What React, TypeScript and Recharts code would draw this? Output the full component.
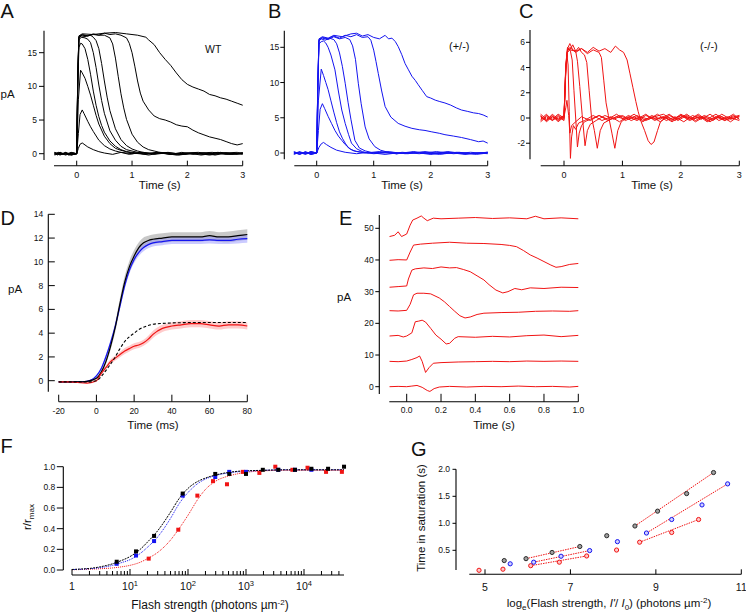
import React from "react";
import { ComposedChart, Line, Area, Scatter, XAxis, YAxis, ReferenceLine } from "recharts";

const W = 746;
const H = 612;
const FONT = "'Liberation Sans', Arial, Helvetica, sans-serif";
const BLUE = "#1414f0";
const RED = "#f01414";

type Pt = [number, number];

// ---- A: WT flash responses (time s, pA)
const wt1: Pt[] = [[-0.4,0.1],[-0.35,-0.2],[-0.3,0.2],[-0.25,-0.1],[-0.2,0.1],[-0.15,-0.2],[-0.1,0.1],[-0.05,-0.1],[0,0],[0.03,0.8],[0.06,1.4],[0.1,1.6],[0.15,1.3],[0.2,1.0],[0.3,0.6],[0.4,0.3],[0.5,0.1],[0.65,-0.1],[0.8,0.2],[0.95,-0.1],[1.1,0.1],[1.3,-0.2],[1.5,0.1],[1.7,-0.1],[1.9,0.2],[2.1,-0.1],[2.3,0.1],[2.5,-0.2],[2.7,0.1],[2.9,-0.1],[3.0,0.1]];
const wt2: Pt[] = [[-0.4,-0.1],[-0.33,0.2],[-0.27,-0.1],[-0.2,0.1],[-0.13,-0.2],[-0.07,0.1],[0,0],[0.03,3.0],[0.06,5.8],[0.1,6.5],[0.13,6.0],[0.2,4.8],[0.25,4.0],[0.3,3.3],[0.4,2.0],[0.5,1.2],[0.6,0.7],[0.7,0.4],[0.8,0.2],[1.0,0],[1.2,0.2],[1.4,-0.1],[1.6,0.1],[1.85,-0.2],[2.1,0.1],[2.35,-0.1],[2.6,0.2],[2.8,-0.1],[3.0,0.1]];
const wt3: Pt[] = [[-0.4,0.2],[-0.3,-0.1],[-0.2,0.1],[-0.1,-0.2],[0,0],[0.03,8.0],[0.07,12.4],[0.1,12.0],[0.15,11.2],[0.2,10.0],[0.25,8.7],[0.3,7.2],[0.35,5.7],[0.4,4.4],[0.5,2.6],[0.6,1.5],[0.7,0.8],[0.8,0.5],[0.9,0.3],[1.0,0.1],[1.25,-0.1],[1.5,0.2],[1.75,-0.1],[2.0,0.1],[2.25,-0.2],[2.5,0.1],[2.75,-0.1],[3.0,0.1]];
const wt4: Pt[] = [[-0.4,-0.1],[-0.3,0.1],[-0.2,-0.2],[-0.1,0.1],[0,0],[0.02,10],[0.04,15.8],[0.07,16.4],[0.1,16.3],[0.15,15.6],[0.2,14.0],[0.25,11.8],[0.3,9.3],[0.35,7.2],[0.4,5.5],[0.45,4.2],[0.5,3.2],[0.6,1.9],[0.7,1.1],[0.8,0.6],[0.9,0.3],[1.0,0.2],[1.2,0],[1.45,0.2],[1.7,-0.1],[1.95,0.1],[2.2,0.2],[2.45,-0.1],[2.7,0.1],[3.0,-0.1]];
const wt5: Pt[] = [[-0.4,0.1],[-0.3,-0.1],[-0.2,0.2],[-0.1,-0.1],[0,0],[0.02,11],[0.04,16.9],[0.08,17.3],[0.15,17.2],[0.2,17.0],[0.25,16.5],[0.3,15.0],[0.35,12.8],[0.4,10.2],[0.45,7.9],[0.5,6.0],[0.6,3.4],[0.7,2.0],[0.8,1.1],[0.9,0.6],[1.0,0.4],[1.1,0.2],[1.3,0],[1.55,0.1],[1.8,-0.2],[2.05,0.1],[2.3,-0.1],[2.55,0.2],[2.8,0],[3.0,0.1]];
const wt6: Pt[] = [[-0.4,-0.2],[-0.3,0.1],[-0.2,-0.1],[-0.1,0.2],[0,0],[0.02,11.5],[0.04,17.2],[0.08,17.5],[0.15,17.4],[0.25,17.6],[0.3,17.3],[0.35,16.8],[0.4,15.6],[0.45,13.4],[0.5,10.8],[0.55,8.4],[0.6,6.4],[0.7,3.7],[0.8,2.1],[0.9,1.2],[1.0,0.7],[1.1,0.4],[1.2,0.2],[1.4,0],[1.65,0.2],[1.9,-0.1],[2.15,0.1],[2.4,-0.2],[2.65,0.1],[2.9,0.2],[3.0,0]];
const wt7: Pt[] = [[-0.4,0.1],[-0.3,-0.2],[-0.2,0.1],[-0.1,-0.1],[0,0],[0.02,12],[0.04,17.3],[0.1,17.6],[0.2,17.5],[0.3,17.7],[0.4,17.6],[0.5,17.6],[0.6,17.2],[0.65,16.3],[0.7,14.2],[0.75,11.5],[0.8,8.9],[0.85,6.8],[0.9,5.1],[1.0,2.9],[1.1,1.7],[1.2,1.0],[1.3,0.6],[1.4,0.4],[1.5,0.2],[1.7,0.1],[1.95,-0.1],[2.2,0.1],[2.45,0.2],[2.7,-0.1],[3.0,0.1]];
const wt8: Pt[] = [[-0.4,0],[-0.3,0.2],[-0.2,-0.1],[-0.1,0.1],[0,0],[0.02,12],[0.04,17.4],[0.1,17.7],[0.2,17.5],[0.3,17.8],[0.4,17.6],[0.5,17.9],[0.6,17.7],[0.7,17.8],[0.8,17.6],[0.9,17.2],[0.95,16.4],[1.0,15.0],[1.05,13.0],[1.1,10.8],[1.15,9.0],[1.2,7.8],[1.3,6.5],[1.4,5.6],[1.5,5.2],[1.6,5.0],[1.7,4.7],[1.8,4.3],[1.9,4.1],[2.0,4.0],[2.1,3.5],[2.2,3.1],[2.3,2.8],[2.4,2.5],[2.5,2.3],[2.6,2.1],[2.7,1.8],[2.8,1.5],[2.9,1.3],[3.0,1.5]];
const wt9: Pt[] = [[-0.4,0.1],[-0.3,-0.1],[-0.2,0.1],[-0.1,-0.2],[0,0],[0.02,12],[0.04,17.5],[0.1,17.8],[0.3,17.7],[0.5,17.9],[0.7,18.0],[0.9,17.8],[1.1,17.6],[1.25,17.3],[1.3,16.9],[1.4,16.2],[1.5,15.0],[1.6,14.0],[1.7,13.1],[1.8,12.0],[1.9,11.0],[2.0,10.3],[2.1,9.9],[2.2,9.6],[2.3,9.3],[2.4,8.8],[2.5,8.6],[2.6,8.3],[2.7,8.1],[2.8,7.8],[2.9,7.5],[3.0,7.2]];
const wtTraces = [wt1, wt2, wt3, wt4, wt5, wt6, wt7, wt8, wt9];

// ---- B: (+/-)
const het1: Pt[] = [[-0.4,0.1],[-0.3,-0.2],[-0.2,0.2],[-0.1,-0.1],[0,0],[0.04,0.8],[0.08,1.3],[0.12,1.5],[0.17,1.2],[0.25,0.8],[0.35,0.4],[0.5,0.1],[0.7,-0.1],[0.9,0.1],[1.2,-0.2],[1.5,0.1],[1.8,-0.1],[2.1,0.2],[2.4,-0.1],[2.7,0.1],[3.0,-0.1]];
const het2: Pt[] = [[-0.4,-0.2],[-0.3,0.1],[-0.2,-0.1],[-0.1,0.2],[0,0],[0.03,3.2],[0.06,6.2],[0.1,7.0],[0.14,6.3],[0.2,5.2],[0.26,4.2],[0.32,3.2],[0.38,2.4],[0.44,1.8],[0.5,1.2],[0.6,0.5],[0.7,0.2],[0.85,0],[1.1,0.2],[1.4,-0.1],[1.7,0.1],[2.0,-0.2],[2.3,0.1],[2.6,-0.1],[3.0,0.1]];
const het3: Pt[] = [[-0.4,0.1],[-0.3,-0.1],[-0.2,0.1],[-0.1,-0.2],[0,0],[0.03,7.5],[0.08,11.9],[0.12,11.0],[0.16,10.0],[0.2,9.0],[0.25,7.4],[0.3,5.8],[0.35,4.3],[0.4,3.0],[0.45,2.1],[0.5,1.4],[0.56,0.7],[0.65,0.3],[0.8,0.1],[1.0,-0.1],[1.3,0.1],[1.6,-0.1],[1.9,0.2],[2.2,-0.1],[2.5,0.1],[2.8,-0.2],[3.0,0]];
const het4: Pt[] = [[-0.4,-0.1],[-0.3,0.2],[-0.2,-0.1],[-0.1,0.1],[0,0],[0.02,9],[0.04,15.5],[0.08,15.8],[0.12,15.9],[0.16,15.6],[0.2,15.0],[0.25,13.9],[0.32,11.8],[0.38,8.8],[0.44,6.1],[0.5,4.2],[0.56,2.6],[0.61,1.4],[0.7,0.6],[0.8,0.2],[0.9,0],[1.1,0.1],[1.4,-0.1],[1.7,0.2],[2.0,-0.1],[2.3,0.1],[2.6,-0.2],[3.0,0.1]];
const het5: Pt[] = [[-0.4,0.2],[-0.3,-0.1],[-0.2,0.1],[-0.1,-0.2],[0,0],[0.02,9.5],[0.04,15.9],[0.08,16.2],[0.15,16.0],[0.22,16.3],[0.3,16.1],[0.35,15.5],[0.4,14.2],[0.45,12.3],[0.5,9.9],[0.55,7.2],[0.6,4.8],[0.67,1.8],[0.75,0.7],[0.85,0.3],[1.0,0],[1.25,0.2],[1.55,-0.1],[1.85,0.1],[2.15,-0.2],[2.45,0.1],[2.75,-0.1],[3.0,0.1]];
const het6: Pt[] = [[-0.4,-0.1],[-0.3,0.1],[-0.2,-0.2],[-0.1,0.1],[0,0],[0.02,10],[0.04,16.0],[0.1,16.3],[0.2,16.1],[0.3,16.5],[0.4,16.2],[0.5,16.4],[0.58,16.1],[0.63,15.2],[0.68,13.3],[0.73,9.9],[0.78,7.0],[0.85,3.7],[0.92,2.0],[1.02,0.9],[1.12,0.4],[1.25,0.1],[1.4,-0.1],[1.7,0.1],[2.0,-0.1],[2.3,0.2],[2.6,-0.1],[3.0,0]];
const het7: Pt[] = [[-0.4,0.1],[-0.3,-0.2],[-0.2,0.1],[-0.1,-0.1],[0,0],[0.02,10],[0.04,16.1],[0.1,16.4],[0.2,16.2],[0.3,16.6],[0.4,16.3],[0.5,16.7],[0.6,16.5],[0.7,16.8],[0.8,16.4],[0.9,16.5],[0.95,16.0],[1.0,14.6],[1.04,13.0],[1.08,11.3],[1.14,8.8],[1.2,6.6],[1.3,5.1],[1.43,4.2],[1.55,3.8],[1.67,3.5],[1.8,3.3],[1.9,3.2],[2.02,3.0],[2.15,2.8],[2.25,2.6],[2.4,2.4],[2.54,2.2],[2.7,1.9],[2.84,1.6],[2.92,1.7],[3.0,1.4]];
const het8: Pt[] = [[-0.4,-0.1],[-0.3,0.1],[-0.2,-0.1],[-0.1,0.2],[0,0],[0.02,10],[0.04,16.2],[0.1,16.5],[0.2,16.3],[0.3,16.7],[0.45,16.5],[0.6,16.9],[0.7,17.0],[0.8,16.6],[0.9,16.8],[1.0,16.4],[1.1,16.2],[1.2,16.7],[1.26,16.2],[1.32,16.3],[1.38,15.8],[1.43,15.1],[1.49,14.0],[1.55,12.7],[1.61,11.8],[1.67,10.9],[1.73,10.3],[1.78,9.7],[1.85,8.9],[1.93,8.0],[2.0,7.8],[2.08,7.5],[2.16,7.3],[2.25,7.1],[2.35,6.8],[2.45,6.4],[2.54,6.1],[2.65,5.9],[2.75,5.7],[2.84,5.6],[2.92,5.4],[3.0,5.1]];
const hetTraces = [het1, het2, het3, het4, het5, het6, het7, het8];

// ---- C: (-/-)
const ko1: Pt[] = [[-0.4,0.2],[-0.3,-0.3],[-0.2,0.1],[-0.1,-0.2],[0,0.1],[0.03,0.8],[0.05,1.4],[0.08,0.2],[0.1,-1.2],[0.13,-0.6],[0.2,-0.3],[0.3,0.1],[0.45,-0.2],[0.6,0.2],[0.75,-0.1],[0.9,0.3],[1.05,-0.2],[1.2,0.1],[1.35,-0.3],[1.5,0.2],[1.65,-0.1],[1.8,0.3],[1.95,-0.2],[2.1,0.2],[2.25,-0.3],[2.4,0.1],[2.55,-0.2],[2.7,0.3],[2.85,-0.1],[3.0,0.1]];
const ko2: Pt[] = [[-0.4,-0.2],[-0.3,0.2],[-0.2,-0.1],[-0.1,0.3],[0,0],[0.03,3.5],[0.05,5.0],[0.07,4.2],[0.09,0.5],[0.11,-3.2],[0.13,-1.5],[0.16,-0.6],[0.2,-0.9],[0.25,-0.4],[0.35,-0.2],[0.5,0.2],[0.65,-0.2],[0.8,0.1],[0.95,-0.3],[1.1,0.2],[1.25,-0.1],[1.4,0.3],[1.55,-0.2],[1.7,0.1],[1.85,-0.2],[2.0,0.3],[2.15,-0.1],[2.3,0.2],[2.45,-0.3],[2.6,0.1],[2.75,-0.2],[2.9,0.2],[3.0,-0.1]];
const ko3: Pt[] = [[-0.4,0.1],[-0.3,-0.2],[-0.2,0.3],[-0.1,-0.1],[0,0.2],[0.03,3.8],[0.05,5.2],[0.08,5.5],[0.11,5.3],[0.14,4.6],[0.17,2.2],[0.2,0.0],[0.23,-2.3],[0.26,-1.2],[0.3,-0.6],[0.35,-0.3],[0.45,-0.1],[0.6,0.2],[0.75,-0.2],[0.9,0.1],[1.05,-0.1],[1.2,0.3],[1.35,-0.2],[1.5,0.1],[1.65,-0.3],[1.8,0.2],[1.95,-0.1],[2.1,0.3],[2.25,-0.2],[2.4,0.2],[2.55,-0.1],[2.7,0.1],[2.85,-0.3],[3.0,0.2]];
const ko4: Pt[] = [[-0.4,-0.3],[-0.3,0.1],[-0.2,-0.2],[-0.1,0.2],[0,-0.1],[0.03,4.0],[0.06,5.5],[0.1,5.9],[0.15,5.4],[0.2,5.3],[0.23,4.5],[0.27,2.5],[0.31,0.3],[0.36,-2.2],[0.4,-1.0],[0.45,-0.5],[0.55,-0.2],[0.7,0.2],[0.85,-0.1],[1.0,0.2],[1.15,-0.2],[1.3,0.1],[1.45,-0.1],[1.6,0.3],[1.75,-0.2],[1.9,0.1],[2.05,-0.3],[2.2,0.2],[2.35,-0.1],[2.5,0.3],[2.65,-0.2],[2.8,0.1],[3.0,-0.2]];
const ko5: Pt[] = [[-0.4,0.3],[-0.3,-0.1],[-0.2,0.2],[-0.1,-0.3],[0,0.1],[0.03,4.2],[0.06,5.6],[0.1,5.4],[0.15,5.8],[0.2,5.3],[0.25,5.6],[0.3,5.2],[0.35,5.0],[0.39,4.4],[0.43,2.2],[0.47,0.1],[0.52,-1.0],[0.57,-2.4],[0.62,-1.0],[0.68,-0.4],[0.8,-0.1],[0.95,0.2],[1.1,-0.1],[1.25,0.2],[1.4,-0.2],[1.55,0.1],[1.7,0.3],[1.85,-0.1],[2.0,0.2],[2.15,-0.2],[2.3,0.1],[2.45,-0.1],[2.6,0.3],[2.75,-0.2],[2.9,0.1],[3.0,0.2]];
const ko6: Pt[] = [[-0.4,-0.1],[-0.3,0.3],[-0.2,-0.2],[-0.1,0.1],[0,-0.2],[0.03,4.0],[0.06,5.3],[0.1,5.6],[0.2,5.2],[0.3,5.5],[0.4,5.1],[0.5,5.4],[0.6,5.2],[0.64,4.8],[0.68,3.0],[0.72,1.2],[0.76,0.2],[0.82,-1.2],[0.87,-2.4],[0.92,-1.0],[0.98,-0.3],[1.1,0.1],[1.25,-0.2],[1.4,0.2],[1.55,-0.1],[1.7,0.1],[1.85,-0.3],[2.0,0.2],[2.15,-0.1],[2.3,0.3],[2.45,-0.2],[2.6,0.1],[2.75,-0.1],[2.9,0.3],[3.0,-0.1]];
const ko7: Pt[] = [[-0.4,0.1],[-0.3,-0.2],[-0.2,0.1],[-0.1,-0.1],[0,0.2],[0.03,3.8],[0.06,5.2],[0.1,5.4],[0.2,5.3],[0.3,5.5],[0.4,5.2],[0.5,5.6],[0.6,5.3],[0.7,5.5],[0.8,5.2],[0.88,5.7],[0.95,5.4],[1.02,5.2],[1.08,4.6],[1.13,3.5],[1.18,2.4],[1.23,1.3],[1.27,0.5],[1.32,-0.3],[1.38,-1.0],[1.44,-1.8],[1.49,-2.1],[1.54,-1.9],[1.6,-1.0],[1.65,-0.3],[1.75,0.1],[1.9,-0.2],[2.05,0.2],[2.2,-0.1],[2.35,0.1],[2.5,-0.3],[2.65,0.2],[2.8,-0.1],[3.0,0.1]];
const koTraces = [ko1, ko2, ko3, ko4, ko5, ko6, ko7];

// ---- D: mean rising phase (ms, pA)
const tD = [-20,-15,-10,-5,0,2.5,5,7.5,10,12.5,15,17.5,20,22.5,25,27.5,30,35,40,45,50,55,60,65,70,75,80];
const dBlack = [-0.1,-0.1,-0.1,-0.05,0.2,0.7,1.6,2.9,4.5,6.5,8.3,9.6,10.5,11.2,11.6,11.8,11.9,12.0,12.1,12.1,12.1,12.1,12.2,12.1,12.1,12.2,12.3];
const dBlackSd = [0.05,0.05,0.05,0.05,0.1,0.15,0.2,0.3,0.4,0.45,0.5,0.5,0.5,0.45,0.45,0.4,0.4,0.4,0.4,0.4,0.4,0.4,0.4,0.4,0.45,0.45,0.45];
const dBlue = [-0.1,-0.1,-0.1,-0.05,0.4,1.0,2.0,3.2,4.6,6.3,8.0,9.3,10.2,10.8,11.2,11.45,11.6,11.7,11.8,11.8,11.8,11.8,11.85,11.8,11.8,11.9,11.95];
const dBlueSd = [0.05,0.05,0.05,0.05,0.1,0.15,0.2,0.25,0.3,0.3,0.3,0.3,0.3,0.3,0.3,0.3,0.3,0.3,0.3,0.3,0.3,0.3,0.3,0.3,0.3,0.35,0.35];
const dRed = [-0.1,-0.1,-0.15,-0.2,0.0,0.6,1.1,1.6,1.9,2.2,2.5,2.7,2.9,3.0,3.2,3.5,3.9,4.4,4.6,4.7,4.8,4.8,4.7,4.6,4.7,4.7,4.6];
const dRedSd = [0.05,0.05,0.05,0.05,0.08,0.12,0.15,0.2,0.2,0.22,0.25,0.25,0.25,0.25,0.25,0.28,0.3,0.3,0.3,0.3,0.3,0.3,0.3,0.3,0.3,0.3,0.3];
const dFit = [-0.1,-0.1,-0.1,-0.1,0.0,0.35,0.85,1.4,2.0,2.7,3.3,3.7,4.0,4.3,4.5,4.65,4.75,4.82,4.86,4.88,4.9,4.9,4.9,4.9,4.9,4.9,4.9];

// ---- E: (-/-) responses, offset traces (s, pA)
const e1: Pt[] = [[-0.1,0],[-0.05,0.1],[0,0],[0.03,0.2],[0.06,0.4],[0.09,-0.2],[0.12,-1.2],[0.135,-1.5],[0.16,-0.6],[0.19,-0.1],[0.25,0.1],[0.35,-0.1],[0.45,0.1],[0.55,0],[0.65,0.2],[0.75,0],[0.85,0.1],[0.95,-0.1],[1.0,0.1]];
const e2: Pt[] = [[-0.1,8.0],[-0.05,7.9],[0,8.1],[0.03,8.6],[0.06,9.2],[0.075,9.7],[0.09,8.0],[0.11,4.5],[0.13,6.0],[0.155,7.4],[0.2,7.6],[0.3,7.8],[0.4,7.9],[0.5,8.0],[0.6,7.9],[0.7,8.1],[0.8,8.0],[0.9,8.1],[1.0,8.0]];
const e3: Pt[] = [[-0.1,16.0],[-0.05,16.2],[-0.02,15.7],[0,16.0],[0.03,17.0],[0.05,20.5],[0.07,20.7],[0.09,21.0],[0.11,20.4],[0.14,18.4],[0.17,16.3],[0.2,15.0],[0.23,13.5],[0.25,13.7],[0.28,15.3],[0.3,15.8],[0.4,15.6],[0.5,15.9],[0.6,15.7],[0.7,16.1],[0.8,16.3],[0.9,15.8],[1.0,16.2]];
const e4: Pt[] = [[-0.1,24.0],[-0.05,23.9],[0,24.1],[0.02,26],[0.04,29.0],[0.06,29.5],[0.1,29.5],[0.14,29.3],[0.19,28.0],[0.22,26.8],[0.25,25.3],[0.28,23.8],[0.31,22.4],[0.34,21.7],[0.37,22.0],[0.41,22.8],[0.45,23.2],[0.55,23.4],[0.65,23.5],[0.75,23.8],[0.85,23.9],[0.95,23.8],[1.0,24.0]];
const e5: Pt[] = [[-0.1,31.4],[-0.05,31.6],[0,31.8],[0.01,34],[0.03,36.8],[0.05,37.2],[0.1,37.5],[0.15,37.3],[0.2,37.8],[0.25,37.5],[0.29,37.6],[0.33,37.0],[0.37,36.3],[0.41,35.0],[0.45,33.7],[0.48,32.2],[0.52,30.5],[0.56,29.6],[0.59,30.0],[0.63,31.0],[0.67,30.6],[0.72,31.2],[0.8,31.0],[0.9,31.4],[1.0,31.3]];
const e6: Pt[] = [[-0.1,39.9],[-0.05,40.1],[0,40.0],[0.02,42.5],[0.04,44.7],[0.08,45.0],[0.15,45.3],[0.25,45.6],[0.35,45.3],[0.45,45.2],[0.55,44.9],[0.6,44.6],[0.64,44.2],[0.68,43.0],[0.72,41.6],[0.76,40.6],[0.8,39.5],[0.84,38.4],[0.87,37.7],[0.9,37.9],[0.95,38.6],[1.0,38.9]];
const e7: Pt[] = [[-0.1,47.4],[-0.07,47.8],[-0.05,48.9],[-0.03,47.4],[0,48.2],[0.02,51.0],[0.035,52.6],[0.06,53.2],[0.085,53.9],[0.1,53.2],[0.12,52.4],[0.155,53.2],[0.2,53.0],[0.3,53.2],[0.4,53.4],[0.5,53.1],[0.6,53.3],[0.7,53.0],[0.75,53.8],[0.8,53.0],[0.9,53.3],[1.0,53.0]];
const eTraces = [e1, e2, e3, e4, e5, e6, e7];

// ---- F: intensity-response (photons/um2, r/rmax)
const fitI = [1,1.5,2,3,5,7,10,15,20,30,50,70,100,150,200,300,500,700,1000,2000,5000,10000,20000,49000];
const fitBlack = [0.005,0.01,0.015,0.03,0.06,0.09,0.13,0.2,0.27,0.38,0.56,0.69,0.79,0.86,0.89,0.92,0.945,0.955,0.96,0.965,0.97,0.97,0.97,0.97];
const fitBlue = [0.004,0.008,0.012,0.022,0.045,0.07,0.1,0.16,0.22,0.32,0.5,0.64,0.75,0.84,0.88,0.915,0.94,0.95,0.955,0.965,0.97,0.97,0.97,0.97];
const fitRed = [0.003,0.005,0.008,0.012,0.02,0.03,0.045,0.075,0.11,0.17,0.29,0.4,0.53,0.69,0.78,0.86,0.91,0.93,0.945,0.96,0.965,0.965,0.965,0.965];
const fBlack: Pt[] = [[5.9,0.08],[12.7,0.18],[26,0.33],[81,0.74],[295,0.93],[514,0.93],[1000,0.93],[1950,0.97],[3600,0.97],[7000,0.97],[13400,0.98],[26000,0.98],[49000,1.0]];
const fBlue: Pt[] = [[5.9,0.06],[12.7,0.14],[26,0.28],[81,0.72],[295,0.9],[514,0.95],[1000,0.95],[3600,0.97],[7000,0.97],[13400,0.97]];
const fRed: Pt[] = [[21,0.11],[68,0.39],[145,0.72],[270,0.86],[470,0.83],[880,0.95],[1700,0.94],[3200,1.0],[6300,0.97],[11500,0.99],[24000,0.95],[45000,0.95]];
const fDecades = [1, 10, 100, 1000, 10000];
const fMinor = [2, 3, 4, 5, 6, 7, 8, 9];

// ---- G: time in saturation vs ln(flash)
const gBlack: Pt[] = [[5.45,0.31],[5.96,0.345],[6.57,0.46],[7.22,0.57],[7.85,0.77],[8.51,0.95],[9.04,1.225],[9.72,1.55],[10.35,1.94]];
const gBlue: Pt[] = [[5.59,0.25],[6.14,0.28],[6.78,0.39],[7.45,0.495],[8.1,0.66],[8.78,0.82],[9.37,1.07],[10.08,1.34],[10.68,1.73]];
const gRed: Pt[] = [[4.86,0.13],[5.42,0.15],[6.07,0.215],[6.74,0.28],[7.38,0.395],[8.08,0.505],[8.62,0.65],[9.37,0.83],[10.0,1.07]];
const gFits: Pt[][] = [
  [[5.96,0.345],[7.22,0.57]],
  [[6.14,0.28],[7.45,0.495]],
  [[6.07,0.215],[7.38,0.395]],
  [[8.51,0.95],[10.35,1.94]],
  [[8.78,0.82],[10.68,1.73]],
  [[8.62,0.65],[10.0,1.07]],
];

// ---------------------------------------------------------------------------

type Rect = { l: number; t: number; r: number; b: number };
type Cal = [number, number, number, number]; // px0, val0, px1, val1
const lin = (c: Cal, px: number) => c[1] + ((px - c[0]) * (c[3] - c[1])) / (c[2] - c[0]);
const AXW = 30;
const AXH = 20;
const margins = (p: Rect) => ({ left: p.l - AXW, top: p.t, right: W - p.r, bottom: H - p.b - AXH });
const rows = (pts: Pt[]) => pts.map(([t, v]) => ({ t, v }));

const xTick =
  (len: number, dy: number, fs: number, fmt: (v: number) => React.ReactNode, major: (v: number) => boolean = () => true, minorLen = 0) =>
  (p: any) => {
    const v = p.payload.value as number;
    const mj = major(v);
    return (
      <g>
        <line x1={p.x} x2={p.x} y1={p.y} y2={p.y - (mj ? len : minorLen)} stroke="#000" />
        {mj ? (
          <text x={p.x} y={p.y + dy} textAnchor="middle" fontSize={fs} fill="#111">
            {fmt(v)}
          </text>
        ) : null}
      </g>
    );
  };

const yTick = (len: number, gap: number, fs: number, fmt: (v: number) => React.ReactNode, inward = false) => (p: any) => (
  <g>
    <line x1={p.x} x2={inward ? p.x + len : p.x - len} y1={p.y} y2={p.y} stroke="#000" />
    <text x={p.x - gap} y={p.y} dy="0.35em" textAnchor="end" fontSize={fs} fill="#111">
      {fmt(p.payload.value)}
    </text>
  </g>
);

type AxisCfg = {
  rect: Rect;
  xDomain: [number, number];
  yDomain: [number, number];
  xTicks: number[];
  yTicks: number[];
  xTick: (p: any) => React.ReactElement;
  yTick: (p: any) => React.ReactElement;
  yLine: [number, number];
  xLine: [number, number];
  xKey: string;
  yKey?: string;
  log?: boolean;
};

function cfgLin(rect: Rect, cx: Cal, cy: Cal, yLinePx: [number, number], xLinePx: [number, number]) {
  return {
    rect,
    xDomain: [lin(cx, rect.l), lin(cx, rect.r)] as [number, number],
    yDomain: [lin(cy, rect.b), lin(cy, rect.t)] as [number, number],
    yLine: [lin(cy, yLinePx[0]), lin(cy, yLinePx[1])] as [number, number],
    xLine: [lin(cx, xLinePx[0]), lin(cx, xLinePx[1])] as [number, number],
  };
}

function axes(c: AxisCfg) {
  return [
    <XAxis key="x" dataKey={c.xKey} type="number" scale={c.log ? "log" : "auto"} domain={c.xDomain} allowDataOverflow ticks={c.xTicks} interval={0} tick={c.xTick} tickLine={false} axisLine={false} tickSize={0} tickMargin={0} height={AXH} />,
    <YAxis key="y" dataKey={c.yKey} type="number" domain={c.yDomain} allowDataOverflow ticks={c.yTicks} interval={0} tick={c.yTick} tickLine={false} axisLine={false} tickSize={0} tickMargin={0} width={AXW} />,
    <ReferenceLine key="yl" segment={[{ x: c.xDomain[0], y: c.yLine[0] }, { x: c.xDomain[0], y: c.yLine[1] }]} stroke="#000" strokeWidth={1.1} ifOverflow="visible" />,
    <ReferenceLine key="xl" segment={[{ x: c.xLine[0], y: c.yDomain[0] }, { x: c.xLine[1], y: c.yDomain[0] }]} stroke="#000" strokeWidth={1.1} ifOverflow="visible" />,
  ];
}

function Frame({ rect, data, children }: { rect: Rect; data?: any[]; children: React.ReactNode }) {
  return (
    <div style={{ position: "absolute", left: 0, top: 0 }}>
      <ComposedChart width={W} height={H} data={data} margin={margins(rect)}>
        {children}
      </ComposedChart>
    </div>
  );
}

const int = (v: number) => String(v);
const one = (v: number) => v.toFixed(1);

function TracePanel({ cfg, traces, color }: { cfg: AxisCfg; traces: Pt[][]; color: string }) {
  return (
    <Frame rect={cfg.rect}>
      {axes(cfg)}
      {traces.map((tr, i) => (
        <Line key={i} data={rows(tr)} dataKey="v" type="linear" stroke={color} strokeWidth={1} dot={false} activeDot={false} isAnimationActive={false} />
      ))}
    </Frame>
  );
}

const cfgA: AxisCfg = {
  ...cfgLin({ l: 44, t: 24, r: 246, b: 165.7 }, [76.7, 0, 242.7, 3], [153.7, 0, 52.7, 15], [160, 30.7], [54, 242.7]),
  xTicks: [0, 1, 2, 3], yTicks: [0, 5, 10, 15], xKey: "t",
  xTick: xTick(5, 12.6, 9, int), yTick: yTick(5, 7, 8.5, int),
};
const cfgB: AxisCfg = {
  ...cfgLin({ l: 284.3, t: 24, r: 490, b: 165.7 }, [316.7, 0, 487.7, 3], [153, 0, 47.3, 15], [159.3, 30.7], [294.3, 487.7]),
  xTicks: [0, 1, 2, 3], yTicks: [0, 5, 10, 15], xKey: "t",
  xTick: xTick(5, 12.6, 9, int), yTick: yTick(4, 5, 8.5, int),
};
const cfgC: AxisCfg = {
  ...cfgLin({ l: 530, t: 24, r: 742, b: 165.7 }, [564, 0, 739.3, 3], [118, 0, 42.3, 6], [159.3, 30], [540.7, 739.3]),
  xTicks: [0, 1, 2, 3], yTicks: [-2, 0, 2, 4, 6], xKey: "t",
  xTick: xTick(5, 12.6, 9, int), yTick: yTick(4, 5, 8.5, int),
};
const cfgD: AxisCfg = {
  ...cfgLin({ l: 48.3, t: 208, r: 250, b: 401.7 }, [58.7, -20, 247.3, 80], [380.7, 0, 214.3, 14], [391.7, 214.3], [58.7, 247.3]),
  xTicks: [-20, 0, 20, 40, 60, 80], yTicks: [0, 2, 4, 6, 8, 10, 12, 14], xKey: "t",
  xTick: xTick(7, 12.3, 8.5, int), yTick: yTick(6.5, 5, 8.5, int, true),
};
const cfgE: AxisCfg = {
  ...cfgLin({ l: 379.3, t: 208, r: 580, b: 401.8 }, [406.7, 0, 578.3, 1], [386.7, 0, 228.3, 50], [394, 215], [389.3, 578.3]),
  xTicks: [0, 0.2, 0.4, 0.6, 0.8, 1.0], yTicks: [0, 10, 20, 30, 40, 50], xKey: "t",
  xTick: xTick(8, 11.3, 8.5, one), yTick: yTick(4, 5.5, 8.5, int),
};

const fLog = (px: number) => Math.pow(10, (px - 72) / 58);
const fRect: Rect = { l: 63.3, t: 458, r: 347, b: 575 };
const fCalY: Cal = [570, 0, 466.7, 1];
const fTickVals = [...fDecades, ...fDecades.slice(0, 4).flatMap((d) => fMinor.map((m) => m * d)), 20000, 30000, 40000];
const decadeLabel = (v: number) => {
  if (v === 1) return "1";
  const e = Math.round(Math.log10(v));
  return (
    <>
      10
      <tspan dy={-4.5} fontSize={7.5}>
        {e}
      </tspan>
    </>
  );
};
const cfgF: AxisCfg = {
  rect: fRect,
  xDomain: [fLog(fRect.l), fLog(fRect.r)],
  yDomain: [lin(fCalY, fRect.b), lin(fCalY, fRect.t)],
  yLine: [0, 1],
  xLine: [1, 49000],
  xTicks: fTickVals, yTicks: [0, 0.2, 0.4, 0.6, 0.8, 1.0], xKey: "I", yKey: "r", log: true,
  xTick: xTick(6, 15, 10.5, decadeLabel, (v) => fDecades.includes(v), 4),
  yTick: yTick(6.5, 8, 8.5, one),
};
const cfgG: AxisCfg = {
  ...cfgLin({ l: 456, t: 462, r: 744, b: 574.3 }, [485, 5, 741.3, 11], [523.3, 1, 469.3, 2], [570, 469.3], [469.3, 741.3]),
  xTicks: [5, 7, 9, 11], yTicks: [0.5, 1.0, 1.5, 2.0], xKey: "x", yKey: "y",
  xTick: xTick(5, 16.4, 10.5, int), yTick: yTick(3.5, 6, 8.5, one),
};

const dRows = tD.map((t, i) => ({
  t,
  black: dBlack[i],
  blue: dBlue[i],
  red: dRed[i],
  fit: dFit[i],
  greyBand: [dBlack[i] - dBlackSd[i], dBlack[i] + dBlackSd[i]],
  blueBand: [dBlue[i] - dBlueSd[i], dBlue[i] + dBlueSd[i]],
  redBand: [dRed[i] - dRedSd[i], dRed[i] + dRedSd[i]],
}));

const fitRows = (vals: number[]) => fitI.map((I, i) => ({ I, r: vals[i] }));
const ptRows = (pts: Pt[], kx: string, ky: string) => pts.map(([a, b]) => ({ [kx]: a, [ky]: b }));

const square = (color: string) => (p: any) => <rect x={p.cx - 2} y={p.cy - 2} width={4} height={4} fill={color} />;
const ring = (stroke: string, fill: string) => (p: any) => <circle cx={p.cx} cy={p.cy} r={2.1} stroke={stroke} strokeWidth={1} fill={fill} />;

function PanelD() {
  return (
    <Frame rect={cfgD.rect} data={dRows}>
      {axes(cfgD)}
      <Area dataKey="greyBand" type="monotone" stroke="none" fill="#9a9a9a" fillOpacity={0.55} isAnimationActive={false} />
      <Area dataKey="blueBand" type="monotone" stroke="none" fill="#8c8cff" fillOpacity={0.45} isAnimationActive={false} />
      <Area dataKey="redBand" type="monotone" stroke="none" fill="#ff8c8c" fillOpacity={0.45} isAnimationActive={false} />
      <Line dataKey="blue" type="monotone" stroke={BLUE} strokeWidth={1.2} dot={false} activeDot={false} isAnimationActive={false} />
      <Line dataKey="black" type="monotone" stroke="#000" strokeWidth={1.2} dot={false} activeDot={false} isAnimationActive={false} />
      <Line dataKey="red" type="monotone" stroke={RED} strokeWidth={1.2} dot={false} activeDot={false} isAnimationActive={false} />
      <Line dataKey="fit" type="monotone" stroke="#000" strokeWidth={1.1} strokeDasharray="3 2" dot={false} activeDot={false} isAnimationActive={false} />
    </Frame>
  );
}

function PanelF() {
  return (
    <Frame rect={cfgF.rect}>
      {axes(cfgF)}
      <Line data={fitRows(fitRed)} dataKey="r" type="monotone" stroke={RED} strokeWidth={1} strokeDasharray="1 1" dot={false} activeDot={false} isAnimationActive={false} />
      <Line data={fitRows(fitBlue)} dataKey="r" type="monotone" stroke={BLUE} strokeWidth={1} strokeDasharray="1 1" dot={false} activeDot={false} isAnimationActive={false} />
      <Line data={fitRows(fitBlack)} dataKey="r" type="monotone" stroke="#000" strokeWidth={1} strokeDasharray="2 1" dot={false} activeDot={false} isAnimationActive={false} />
      <Scatter data={ptRows(fRed, "I", "r")} dataKey="r" shape={square(RED)} isAnimationActive={false} />
      <Scatter data={ptRows(fBlue, "I", "r")} dataKey="r" shape={square(BLUE)} isAnimationActive={false} />
      <Scatter data={ptRows(fBlack, "I", "r")} dataKey="r" shape={square("#000")} isAnimationActive={false} />
    </Frame>
  );
}

function PanelG() {
  return (
    <Frame rect={cfgG.rect}>
      {axes(cfgG)}
      {gFits.map((seg, i) => (
        <Line key={i} data={ptRows(seg, "x", "y")} dataKey="y" type="linear" stroke={RED} strokeWidth={1} strokeDasharray="1.5 1" dot={false} activeDot={false} isAnimationActive={false} />
      ))}
      <Scatter data={ptRows(gRed, "x", "y")} dataKey="y" shape={ring(RED, "#ffc8c8")} isAnimationActive={false} />
      <Scatter data={ptRows(gBlue, "x", "y")} dataKey="y" shape={ring(BLUE, "#d0d0ff")} isAnimationActive={false} />
      <Scatter data={ptRows(gBlack, "x", "y")} dataKey="y" shape={ring("#2a2a2a", "#a0a0a0")} isAnimationActive={false} />
    </Frame>
  );
}

function Labels() {
  const L = 20;
  const T = 11.5;
  return (
    <svg width={W} height={H} style={{ position: "absolute", left: 0, top: 0 }} fontFamily={FONT} fill="#111">
      <text x={0.5} y={18} fontSize={L}>A</text>
      <text x={268} y={18} fontSize={L}>B</text>
      <text x={519} y={18} fontSize={L}>C</text>
      <text x={0.5} y={225} fontSize={L}>D</text>
      <text x={339} y={225} fontSize={L}>E</text>
      <text x={0.5} y={453} fontSize={L}>F</text>
      <text x={411} y={455.5} fontSize={L}>G</text>

      <text x={205} y={53} fontSize={10.5}>WT</text>
      <text x={449} y={50} fontSize={11}>(+/-)</text>
      <text x={700} y={50} fontSize={11}>(-/-)</text>

      <text x={0.5} y={98} fontSize={T}>pA</text>
      <text x={159.7} y={189} fontSize={T} textAnchor="middle">Time (s)</text>
      <text x={402} y={189} fontSize={T} textAnchor="middle">Time (s)</text>
      <text x={652} y={189} fontSize={T} textAnchor="middle">Time (s)</text>

      <text x={8} y={293} fontSize={T}>pA</text>
      <text x={153} y={429} fontSize={T} textAnchor="middle">Time (ms)</text>
      <text x={337} y={301} fontSize={T}>pA</text>
      <text x={494} y={429} fontSize={T} textAnchor="middle">Time (s)</text>

      <text transform="translate(31,517) rotate(-90)" fontSize={T} textAnchor="middle">
        r/r<tspan dy={3} fontSize={8}>max</tspan>
      </text>
      <text x={210} y={609} fontSize={12} textAnchor="middle">
        Flash strength (photons µm<tspan dy={-4.5} fontSize={8}>-2</tspan>
        <tspan dy={4.5}>)</tspan>
      </text>

      <text transform="translate(425,518) rotate(-90)" fontSize={T} textAnchor="middle">Time in saturation (s)</text>
      <text x={609} y={607} fontSize={T} textAnchor="middle">
        log<tspan dy={3} fontSize={8}>e</tspan>
        <tspan dy={-3}>(Flash strength, </tspan>
        <tspan fontStyle="italic">I'</tspan>
        <tspan>/ </tspan>
        <tspan fontStyle="italic">I</tspan>
        <tspan dy={3} fontSize={8}>0</tspan>
        <tspan dy={-3}>) (photons µm</tspan>
        <tspan dy={-4.5} fontSize={8}>-2</tspan>
        <tspan dy={4.5}>)</tspan>
      </text>
    </svg>
  );
}

export default function App() {
  return (
    <div style={{ position: "absolute", left: 0, top: 0, width: W, height: H, background: "#fff", fontFamily: FONT, overflow: "hidden" }}>
      <TracePanel cfg={cfgA} traces={wtTraces} color="#000" />
      <TracePanel cfg={cfgB} traces={hetTraces} color={BLUE} />
      <TracePanel cfg={cfgC} traces={koTraces} color={RED} />
      <PanelD />
      <TracePanel cfg={cfgE} traces={eTraces} color={RED} />
      <PanelF />
      <PanelG />
      <Labels />
    </div>
  );
}
